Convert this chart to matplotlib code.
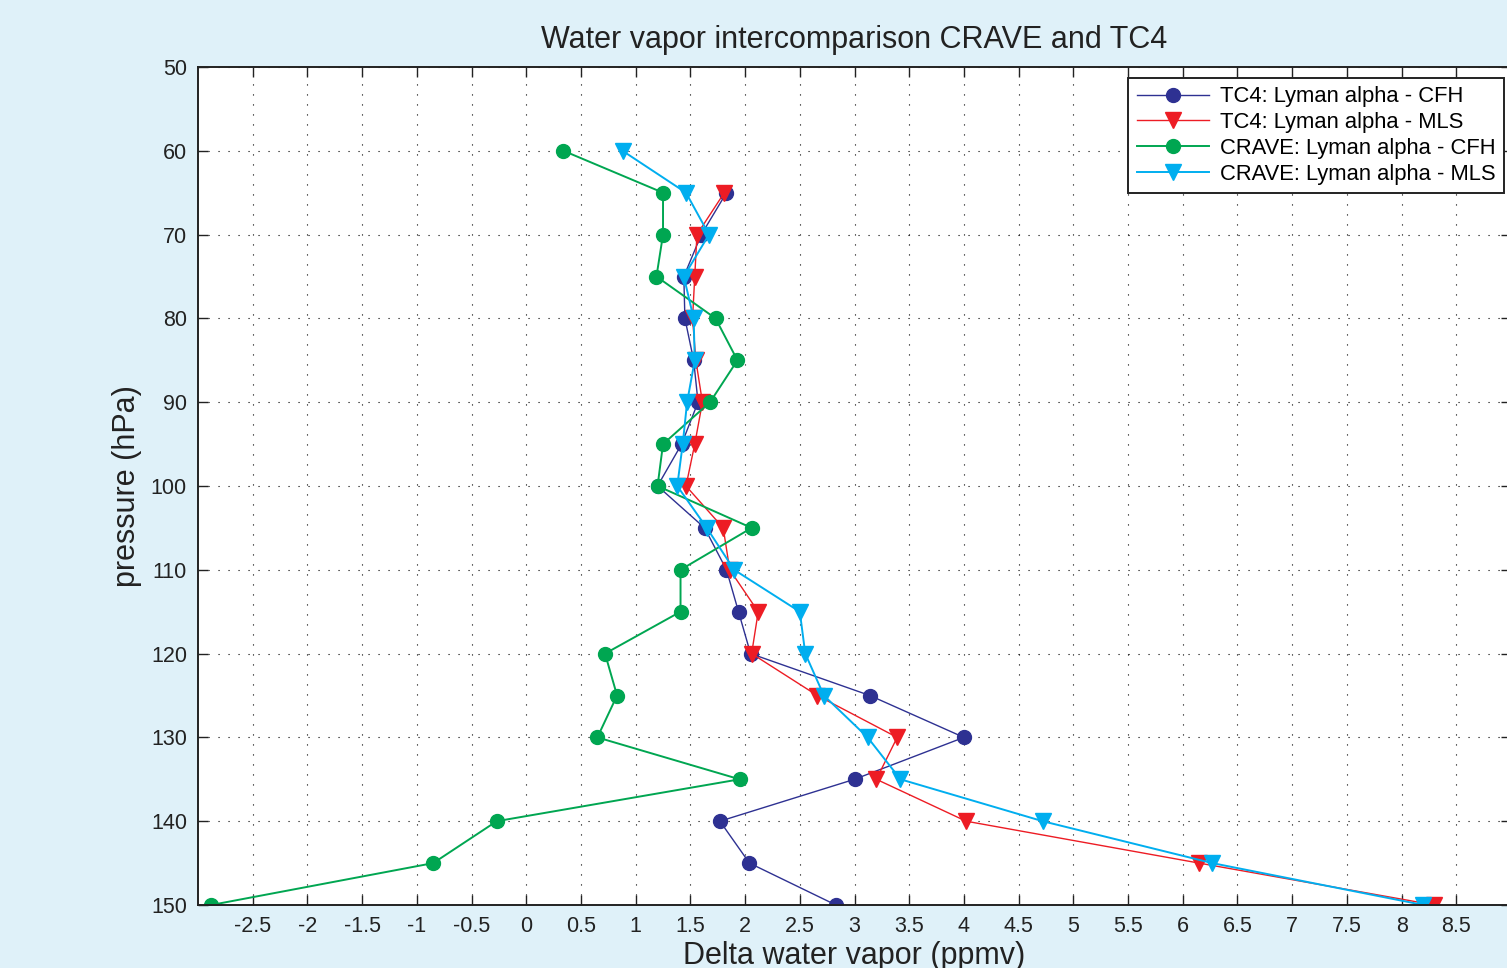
import numpy as np
import matplotlib.pyplot as plt

plt.rcParams['font.family'] = ['Liberation Sans', 'DejaVu Sans']

# pressure levels (hPa)
p_tc4 = [65, 70, 75, 80, 85, 90, 95, 100, 105, 110, 115, 120, 125, 130, 135, 140, 145, 150]
p_crave = [60, 65, 70, 75, 80, 85, 90, 95, 100, 105, 110, 115, 120, 125, 130, 135, 140, 145, 150]

# delta water vapor (ppmv)
tc4_cfh = [1.83, 1.60, 1.44, 1.45, 1.53, 1.57, 1.42, 1.20, 1.63, 1.83, 1.94, 2.05,
           3.14, 4.00, 3.00, 1.77, 2.04, 2.83]
tc4_mls = [1.81, 1.56, 1.54, 1.52, 1.55, 1.61, 1.54, 1.46, 1.80, 1.86, 2.12, 2.06,
           2.66, 3.39, 3.20, 4.02, 6.15, 8.30]
crave_cfh = [0.34, 1.25, 1.25, 1.19, 1.73, 1.93, 1.68, 1.25, 1.20, 2.06, 1.41, 1.41,
             0.72, 0.83, 0.65, 1.95, -0.27, -0.85, -2.88]
crave_mls = [0.88, 1.46, 1.67, 1.44, 1.53, 1.54, 1.47, 1.43, 1.38, 1.65, 1.90, 2.50,
             2.55, 2.72, 3.12, 3.42, 4.72, 6.27, 8.20]

xticks = np.arange(-2.5, 8.51, 0.5)
yticks = np.arange(50, 151, 10)

bg = '#dff1f9'
fig = plt.figure(figsize=(15.07, 9.68), dpi=100, facecolor=bg)
ax = fig.add_axes([198 / 1507, 63 / 968, 1313 / 1507, 838 / 968])

ax.plot(tc4_cfh, p_tc4, color='#2e3192', lw=1.0, marker='o', ms=10,
        label='TC4: Lyman alpha - CFH')
ax.plot(tc4_mls, p_tc4, color='#ed1c24', lw=1.0, marker='v', ms=11,
        label='TC4: Lyman alpha - MLS')
ax.plot(crave_cfh, p_crave, color='#00a651', lw=1.4, marker='o', ms=10,
        label='CRAVE: Lyman alpha - CFH')
ax.plot(crave_mls, p_crave, color='#00aeef', lw=1.4, marker='v', ms=11,
        label='CRAVE: Lyman alpha - MLS')

ax.set_xlim(-3, 9)
ax.set_ylim(150, 50)
ax.set_xticks(xticks)
ax.set_xticklabels(['%g' % t for t in xticks])
ax.set_yticks(yticks)
ax.tick_params(direction='in', length=7, width=1.0, labelsize=15.5,
               top=True, right=True, colors='#222222', pad=8)
ax.grid(True, color='black', lw=0.8, linestyle=(0, (1, 8)))
for s in ax.spines.values():
    s.set_linewidth(1.4)
    s.set_color('#222222')

ax.set_title('Water vapor intercomparison CRAVE and TC4', fontsize=22,
             color='#222222', pad=14)
ax.set_xlabel('Delta water vapor (ppmv)', fontsize=22, color='#222222', labelpad=2.5)
ax.set_ylabel('pressure (hPa)', fontsize=22, color='#222222', labelpad=6)

leg = ax.legend(loc='upper right', bbox_to_anchor=(1306 / 1313, 1 - 11 / 838),
                fontsize=15.8, frameon=True, fancybox=False, framealpha=1,
                edgecolor='#222222', borderpad=0.38, labelspacing=0.22,
                handlelength=3.3, handletextpad=0.5, borderaxespad=0)
leg.get_frame().set_linewidth(1.4)

fig.savefig('out.png', dpi=100, facecolor=bg)
